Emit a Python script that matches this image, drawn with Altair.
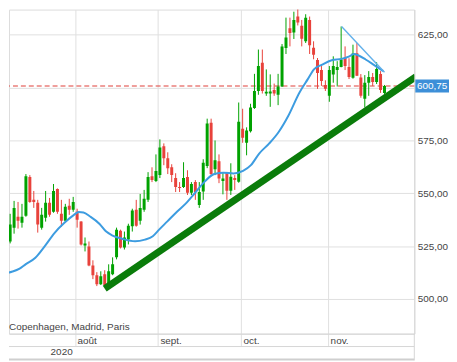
import altair as alt
import pandas as pd

# ---- values (one candle per trading session, early July -> 20 Nov 2020)
opens = [510.3, 527.2, 533.75, 538.9, 536.1, 539.4, 557.7, 546.9, 545.5, 533.75,
         538.4, 545.5, 541.25, 552.0, 540.3, 537.0, 544.1, 542.2, 541.25, 536.6,
         525.3, 524.8, 515.9, 511.25, 507.0, 511.7, 507.0, 511.7, 519.7, 532.3,
         524.4, 528.1, 534.4, 542.2, 537.0, 542.2, 546.9, 558.1, 555.8, 558.6,
         572.2, 566.6, 562.3, 557.2, 553.0, 553.0, 557.7, 550.2, 555.3, 544.5,
         550.8, 562.95, 583.4, 561.4, 565.2, 555.8, 559.7, 551.2, 557.2, 555.5,
         580.5, 573.9, 579.4, 590.3, 598.4, 611.7, 597.2, 597.2, 598.9, 596.6,
         600.5, 618.7, 628.1, 626.1, 633.6, 629.2, 621.9, 632.0, 618.9, 613.1,
         608.3, 601.25, 596.1, 606.25, 608.3, 609.8, 614.05, 609.7, 604.7, 616.25,
         604.8, 594.7, 602.3, 605.0, 602.7, 606.4, 597.4]
highs = [529.0, 540.3, 546.4, 545.9, 545.0, 559.1, 558.6, 551.1, 546.9, 543.1,
         551.1, 547.8, 554.4, 552.3, 546.9, 545.0, 547.4, 548.3, 542.7, 536.8,
         529.1, 527.2, 518.3, 512.7, 513.1, 513.6, 516.4, 519.7, 533.75, 532.8,
         531.9, 535.6, 542.7, 546.9, 549.7, 551.6, 560.0, 562.3, 568.4, 575.5,
         573.6, 569.4, 563.75, 559.5, 555.3, 564.7, 560.9, 555.3, 556.25, 555.3,
         566.1, 585.3, 585.3, 575.0, 568.4, 559.7, 560.1, 564.2, 558.6, 592.95,
         590.0, 581.2, 592.35, 606.5, 618.0, 618.0, 608.6, 606.25, 601.9, 606.5,
         620.6, 633.1, 633.1, 635.9, 637.8, 632.0, 634.7, 633.6, 621.9, 614.0,
         610.2, 603.45, 610.2, 614.8, 612.5, 628.9, 619.5, 613.9, 620.3, 621.1,
         606.4, 605.9, 607.8, 606.9, 612.0, 607.8, 601.25]
lows = [509.4, 526.3, 530.9, 533.3, 533.75, 538.9, 545.5, 543.1, 531.4, 532.8,
        536.6, 538.9, 540.8, 540.3, 534.2, 536.6, 539.8, 541.25, 533.75, 525.3,
        522.5, 515.5, 509.4, 506.1, 506.6, 505.6, 506.1, 511.25, 518.75, 523.9,
        523.4, 525.8, 531.9, 534.2, 535.2, 541.25, 545.9, 555.3, 555.3, 557.2,
        563.3, 559.1, 555.3, 550.6, 550.6, 552.5, 549.2, 549.2, 546.9, 543.1,
        546.9, 561.9, 558.6, 558.6, 554.8, 549.5, 546.9, 549.2, 551.6, 555.0,
        573.9, 567.97, 578.75, 589.9, 596.6, 597.2, 596.1, 590.9, 596.1, 591.7,
        600.3, 615.9, 619.5, 623.0, 629.4, 619.5, 621.1, 615.9, 613.4, 599.4,
        600.8, 598.4, 593.3, 602.3, 600.5, 609.6, 608.3, 604.05, 604.2, 605.5,
        595.2, 590.6, 596.1, 600.8, 601.7, 597.5, 597.0]
closes = [527.6, 535.2, 543.1, 537.0, 538.9, 558.1, 545.9, 545.9, 535.2, 539.8,
          545.5, 539.8, 551.1, 541.25, 537.0, 543.6, 542.2, 545.9, 537.5, 525.8,
          526.25, 515.9, 511.25, 507.0, 510.8, 506.6, 513.1, 516.4, 532.8, 524.4,
          529.1, 534.7, 541.9, 534.7, 543.1, 547.4, 557.7, 556.25, 560.5, 571.7,
          566.6, 561.9, 558.6, 553.0, 552.5, 557.2, 550.2, 554.4, 550.6, 550.6,
          564.4, 582.97, 559.1, 565.6, 557.0, 557.0, 551.2, 557.8, 556.25, 583.9,
          576.3, 579.7, 590.6, 598.4, 610.2, 598.4, 598.0, 598.1, 597.2, 600.5,
          619.5, 623.75, 625.8, 632.0, 630.8, 623.1, 633.1, 620.0, 615.5, 606.9,
          603.1, 599.5, 608.3, 610.2, 609.8, 613.3, 610.2, 605.0, 616.1, 605.6,
          596.1, 602.3, 605.0, 602.7, 608.75, 598.9, 600.75]

# moving average (session index, price)
ma_x = [0, 1.6, 3.4, 4.9, 7.4, 9.8, 12.3, 14.7, 17.2, 18.4, 19.6, 21.3, 23.7, 25.3,
        27.0, 29.4, 32.7, 35.2, 37.2, 38.8, 40.9, 43.4, 45.8, 47.8, 50.3, 52.8, 55.2,
        57.7, 60.1, 62.1, 64.2, 66.7, 69.1, 71.6, 74.4, 76.5, 78.1, 80.2, 82.6, 85.1,
        87.1, 88.3, 89.3, 91.2, 93.2, 95.7]
ma_y = [512.2, 513.0, 514.4, 516.4, 519.5, 525.0, 531.3, 535.9, 539.8, 541.1, 540.9,
        539.0, 535.5, 532.0, 530.0, 528.5, 527.3, 528.1, 529.7, 532.8, 536.7, 541.4,
        545.6, 549.9, 555.4, 559.1, 559.7, 559.4, 560.6, 563.3, 568.8, 573.5, 578.9,
        586.7, 597.6, 603.9, 608.6, 610.9, 612.97, 613.6, 614.8, 615.9, 615.3, 613.3,
        610.9, 607.8]

# drawn lines
wedge_x = [85.1, 96.0]
wedge_y = [628.9, 607.3]
trend_x = [25.0, 104.0]
trend_y = [504.9, 605.2]

month_pos = [17.45, 38.5, 59.6, 81.7]
month_names = ["août", "sept.", "oct.", "nov."]
y_ticks = [500, 525, 550, 575, 600, 625]
y_hidden = 600          # label covered by the last-price tag
year_label = "2020"
exchanges = "Copenhagen, Madrid, Paris"

# ---- styling / layout
W, H = 409, 327
X_DOMAIN = [1.963, 102.31]
Y_DOMAIN = [483.6, 636.9]
FONT = "Liberation Sans"
GREEN, RED = "#00a200", "#e8423b"
MA_COL, WEDGE_COL, TREND_COL = "#3d9ce0", "#62b0ea", "#0a7c0a"
TAG_COL = "#3d8fd8"
GRID, FRAME = "#e0e0e0", "#d6d6d6"
TXT = "#444444"

candles = pd.DataFrame({"i": list(range(len(opens))), "open": opens, "high": highs,
                        "low": lows, "close": closes})
candles["dir"] = ["up" if c >= o else "down" for o, c in zip(opens, closes)]
ma_df = pd.DataFrame({"x": ma_x, "y": ma_y})
wedge_df = pd.DataFrame({"x": wedge_x, "y": wedge_y})
trend_df = pd.DataFrame({"x": trend_x, "y": trend_y})
last = closes[-1]
last_df = pd.DataFrame({"price": [last], "txt": [f"{last:.2f}".replace(".", ",")]})
one = pd.DataFrame({"t": [exchanges], "yr": [year_label]})

x_axis = alt.Axis(orient="bottom", values=month_pos, title=None, grid=True, gridColor=GRID,
                  ticks=True, tickSize=13, tickColor=GRID, domain=True, domainColor=FRAME,
                  labelExpr=f"{month_names}[indexof({month_pos}, datum.value)]",
                  labelAlign="left", labelBaseline="middle", labelPadding=-6, labelOffset=2,
                  labelFontSize=10, labelColor=TXT, labelFont=FONT, labelOverlap=False,
                  labelBound=False, labelFlush=False)
y_axis = alt.Axis(orient="right", values=y_ticks, title=None, grid=True, gridColor=GRID,
                  ticks=False, domain=True, domainColor=FRAME, labelPadding=3,
                  labelExpr=(f"datum.value == {y_hidden} ? '' : "
                             "replace(format(datum.value, '.2f'), '.', ',')"),
                  labelAlign="left", labelBaseline="middle", labelFontSize=10,
                  labelColor=TXT, labelFont=FONT)
xs = alt.Scale(domain=X_DOMAIN, nice=False, zero=False)
ys = alt.Scale(domain=Y_DOMAIN, nice=False, zero=False)


def X(f):
    return alt.X(f, type="quantitative", scale=xs, axis=x_axis)


def Y(f):
    return alt.Y(f, type="quantitative", scale=ys, axis=y_axis)


col = alt.Color("dir:N", scale=alt.Scale(domain=["up", "down"], range=[GREEN, RED]), legend=None)

dash = alt.Chart(last_df).mark_rule(color="#e0413a", strokeDash=[5, 3], strokeWidth=1.2).encode(
    y=Y("price"))
wicks = alt.Chart(candles).mark_rule(strokeWidth=1, clip=True).encode(
    x=X("i"), y=Y("low"), y2="high", color=col)
bodies = alt.Chart(candles).mark_bar(size=3, clip=True).encode(
    x=X("i"), y=Y("open"), y2="close", color=col)
ma = alt.Chart(ma_df).mark_line(color=MA_COL, strokeWidth=2, interpolate="monotone",
                                clip=True).encode(x=X("x"), y=Y("y"))
wedge = alt.Chart(wedge_df).mark_line(color=WEDGE_COL, strokeWidth=1.4, clip=True).encode(
    x=X("x"), y=Y("y"))
trend = alt.Chart(trend_df).mark_line(color=TREND_COL, strokeWidth=7, clip=True).encode(
    x=X("x"), y=Y("y"))

tag = alt.Chart(last_df).mark_point(shape="M-1,-0.38H1V0.38H-1Z", size=34 * 34, filled=True,
                                    color=TAG_COL, opacity=1, strokeWidth=0).encode(
    x=alt.value(W + 18), y=Y("price"))
tag_txt = alt.Chart(last_df).mark_text(color="white", fontSize=10, font=FONT,
                                       align="center", baseline="middle").encode(
    x=alt.value(W + 18), y=Y("price"), text="txt:N")

exch = alt.Chart(one).mark_text(align="left", baseline="middle", fontSize=10, font=FONT,
                                color=TXT).encode(x=alt.value(0), y=alt.value(H - 7), text="t:N")
year = alt.Chart(one).mark_text(align="left", baseline="middle", fontSize=10, font=FONT,
                                color=TXT).encode(x=alt.value(42), y=alt.value(H + 19), text="yr:N")
band = alt.Chart(one).mark_rule(color=FRAME, strokeWidth=1).encode(
    x=alt.value(0), x2=alt.value(W), y=alt.value(H + 13))
bottom = alt.Chart(one).mark_rule(color="#cfcfcf", strokeWidth=2).encode(
    x=alt.value(0), x2=alt.value(W), y=alt.value(H + 26))
right = alt.Chart(one).mark_rule(color=FRAME, strokeWidth=1).encode(
    x=alt.value(W), y=alt.value(H), y2=alt.value(H + 27))

chart = alt.layer(dash, wicks, bodies, ma, wedge, trend, tag, tag_txt, exch, year,
                  band, bottom, right).properties(
    width=W, height=H, padding={"left": 0, "top": 0, "right": 0, "bottom": 0}
).configure_view(stroke=None).configure(background="white")

chart.save("out.html", embed_options={"renderer": "svg", "actions": False})
